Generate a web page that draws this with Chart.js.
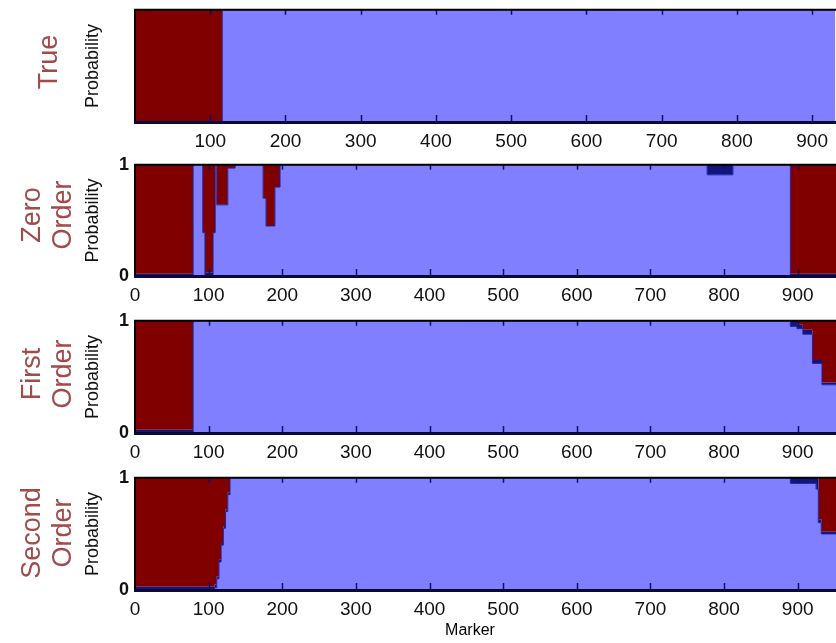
<!DOCTYPE html>
<html>
<head>
<meta charset="utf-8">
<script src="https://cdn.jsdelivr.net/npm/chart.js@4.4.0/dist/chart.umd.min.js"></script>
<style>
  html, body { margin: 0; padding: 0; background: #fff; }
  #wrap { position: relative; width: 836px; height: 643px; overflow: hidden; font-family: "Liberation Sans", Arial, sans-serif; }
  canvas { position: absolute; left: 0; }
  .side { position: absolute; color: #a34a4a; font-size: 27px; line-height: 31px; text-align: center;
          white-space: pre; transform: translate(-50%, -50%) rotate(-90deg); }
  #marker { position: absolute; left: 470px; top: 630px; transform: translate(-50%, -50%); font-size: 16px; color: #000; }
</style>
</head>
<body>
<div id="wrap">
  <canvas id="c-true" width="836" height="159" style="top:-7px"></canvas>
  <canvas id="c-zero" width="836" height="159" style="top:148px"></canvas>
  <canvas id="c-first" width="836" height="159" style="top:304px"></canvas>
  <canvas id="c-second" width="836" height="182" style="top:461px"></canvas>
  <div class="side" style="left:48px; top:62px">True</div>
  <div class="side" style="left:47px; top:215px">Zero
Order</div>
  <div class="side" style="left:47px; top:374px">First
Order</div>
  <div class="side" style="left:47px; top:533px">Second
Order</div>
  <div id="marker">Marker</div>
</div>
<script>
// Class probabilities per marker. Values hold until the next marker.
const trueMarkers = [0, 116, 931];
const trueBlue = [0, 1, 1];
const trueNavy = [0, 0, 0];
const trueRed = [1, 0, 0];

const zeroMarkers = [0, 79, 92, 95, 106, 109, 111, 126, 136, 174, 178, 190, 197, 777, 812, 890, 952];
const zeroBlue = [0, 1, 0.39, 0, 0.39, 1, 0.64, 0.97, 1, 0.7, 0.45, 0.8, 1, 0.91, 1, 0, 0];
const zeroNavy = [0.02, 0, 0, 0.03, 0, 0, 0, 0, 0, 0, 0, 0, 0, 0.09, 0, 0.02, 0.02];
const zeroRed = [0.98, 0, 0.61, 0.97, 0.61, 0, 0.36, 0.03, 0, 0.3, 0.55, 0.2, 0, 0, 0, 0.98, 0.98];

const firstMarkers = [0, 79, 890, 899, 907, 920, 933, 952];
const firstBlue = [0, 1, 0.95, 0.93, 0.88, 0.62, 0.43, 0.43];
const firstNavy = [0.03, 0, 0.05, 0.04, 0.04, 0.03, 0.02, 0.02];
const firstRed = [0.97, 0, 0, 0.03, 0.08, 0.35, 0.55, 0.55];

const secondMarkers = [0, 108, 111, 114, 117, 120, 123, 126, 129, 890, 925, 928, 932, 952];
const secondBlue = [0, 0.02, 0.1, 0.25, 0.4, 0.55, 0.7, 0.85, 1, 0.95, 0.9, 0.6, 0.5, 0.5];
const secondNavy = [0.03, 0.03, 0.02, 0.02, 0.02, 0.02, 0.02, 0.02, 0, 0.05, 0.1, 0.03, 0.02, 0.02];
const secondRed = [0.97, 0.95, 0.88, 0.73, 0.58, 0.43, 0.28, 0.13, 0, 0, 0, 0.37, 0.48, 0.48];

const xTickStep = 100;
const yTicks = [0, 1];

const FONT = "'Liberation Sans', Arial, sans-serif";

// MATLAB-style inward tick marks + axes frame (right side runs off the picture).
const frame = {
  id: "frame",
  afterDatasetsDraw(chart) {
    const { ctx, chartArea: a, scales: { x } } = chart;
    ctx.save();
    ctx.strokeStyle = "#10106a";
    ctx.lineWidth = 1.5;
    x.ticks.forEach((t) => {
      if (t.value === 0) return;
      const px = Math.round(x.getPixelForValue(t.value)) + 0.5;
      ctx.beginPath();
      ctx.moveTo(px, a.bottom); ctx.lineTo(px, a.bottom - 7);
      ctx.moveTo(px, a.top); ctx.lineTo(px, a.top + 5);
      ctx.stroke();
    });
    ctx.strokeStyle = "#000";
    ctx.lineWidth = 2;
    ctx.beginPath();
    ctx.moveTo(a.right + 2, a.top); ctx.lineTo(a.left, a.top); ctx.lineTo(a.left, a.bottom);
    ctx.stroke();
    ctx.strokeStyle = "#0a0a3a";
    ctx.lineWidth = 3;
    ctx.beginPath();
    ctx.moveTo(a.left - 1, a.bottom + 0.5); ctx.lineTo(a.right + 2, a.bottom + 0.5);
    ctx.stroke();
    ctx.restore();
  },
};

function pts(xs, ys) { return xs.map((x, i) => ({ x, y: ys[i] })); }

function panel(id, markers, blue, navy, red, o) {
  new Chart(document.getElementById(id), {
    type: "line",
    data: {
      datasets: [
        { label: "Blue", data: pts(markers, blue), backgroundColor: "#7f7fff", borderColor: "#20209a",
          borderWidth: 1, fill: "origin" },
        { label: "Navy", data: pts(markers, navy), backgroundColor: "#14147e", borderWidth: 0, fill: "-1" },
        { label: "Red", data: pts(markers, red), backgroundColor: "#800000", borderWidth: 0, fill: "-1" },
      ],
    },
    options: {
      responsive: false,
      devicePixelRatio: 1,
      animation: false,
      datasets: { line: { stepped: true, pointRadius: 0, tension: 0 } },
      layout: { padding: { left: 82, top: 0, right: 0, bottom: 0 } },
      plugins: { legend: { display: false }, tooltip: { enabled: false } },
      scales: {
        x: {
          type: "linear", min: 0, max: o.xMax,
          grid: { display: false, drawTicks: false },
          border: { display: false },
          ticks: {
            stepSize: xTickStep, includeBounds: false, maxRotation: 0, autoSkip: false, padding: 8,
            color: "#111", font: { family: FONT, size: 19 },
            callback: (v) => (o.showZero || v !== 0 ? String(v) : ""),
          },
          afterFit: (s) => { s.height = o.xHeight; },
        },
        y: {
          stacked: true, min: 0, max: 1,
          grid: { display: false, drawTicks: false },
          border: { display: false },
          afterBuildTicks: (s) => { s.ticks = yTicks.map((v) => ({ value: v })); },
          ticks: {
            padding: 6, color: "#111", font: { family: FONT, size: 18, weight: "bold" },
            callback: (v) => (o.yLabels ? String(v) : ""),
          },
          title: { display: true, text: "Probability", color: "#111", padding: 0, font: { family: FONT, size: 18 } },
          afterFit: (s) => { s.width = 53; },
        },
      },
    },
    plugins: [frame],
  });
}

panel("c-true", trueMarkers, trueBlue, trueNavy, trueRed,
  { xMax: 931, xHeight: 30, showZero: false, yLabels: false });
panel("c-zero", zeroMarkers, zeroBlue, zeroNavy, zeroRed,
  { xMax: 952, xHeight: 31, showZero: true, yLabels: true });
panel("c-first", firstMarkers, firstBlue, firstNavy, firstRed,
  { xMax: 952, xHeight: 30, showZero: true, yLabels: true });
panel("c-second", secondMarkers, secondBlue, secondNavy, secondRed,
  { xMax: 952, xHeight: 53, showZero: true, yLabels: true });
</script>
</body>
</html>
